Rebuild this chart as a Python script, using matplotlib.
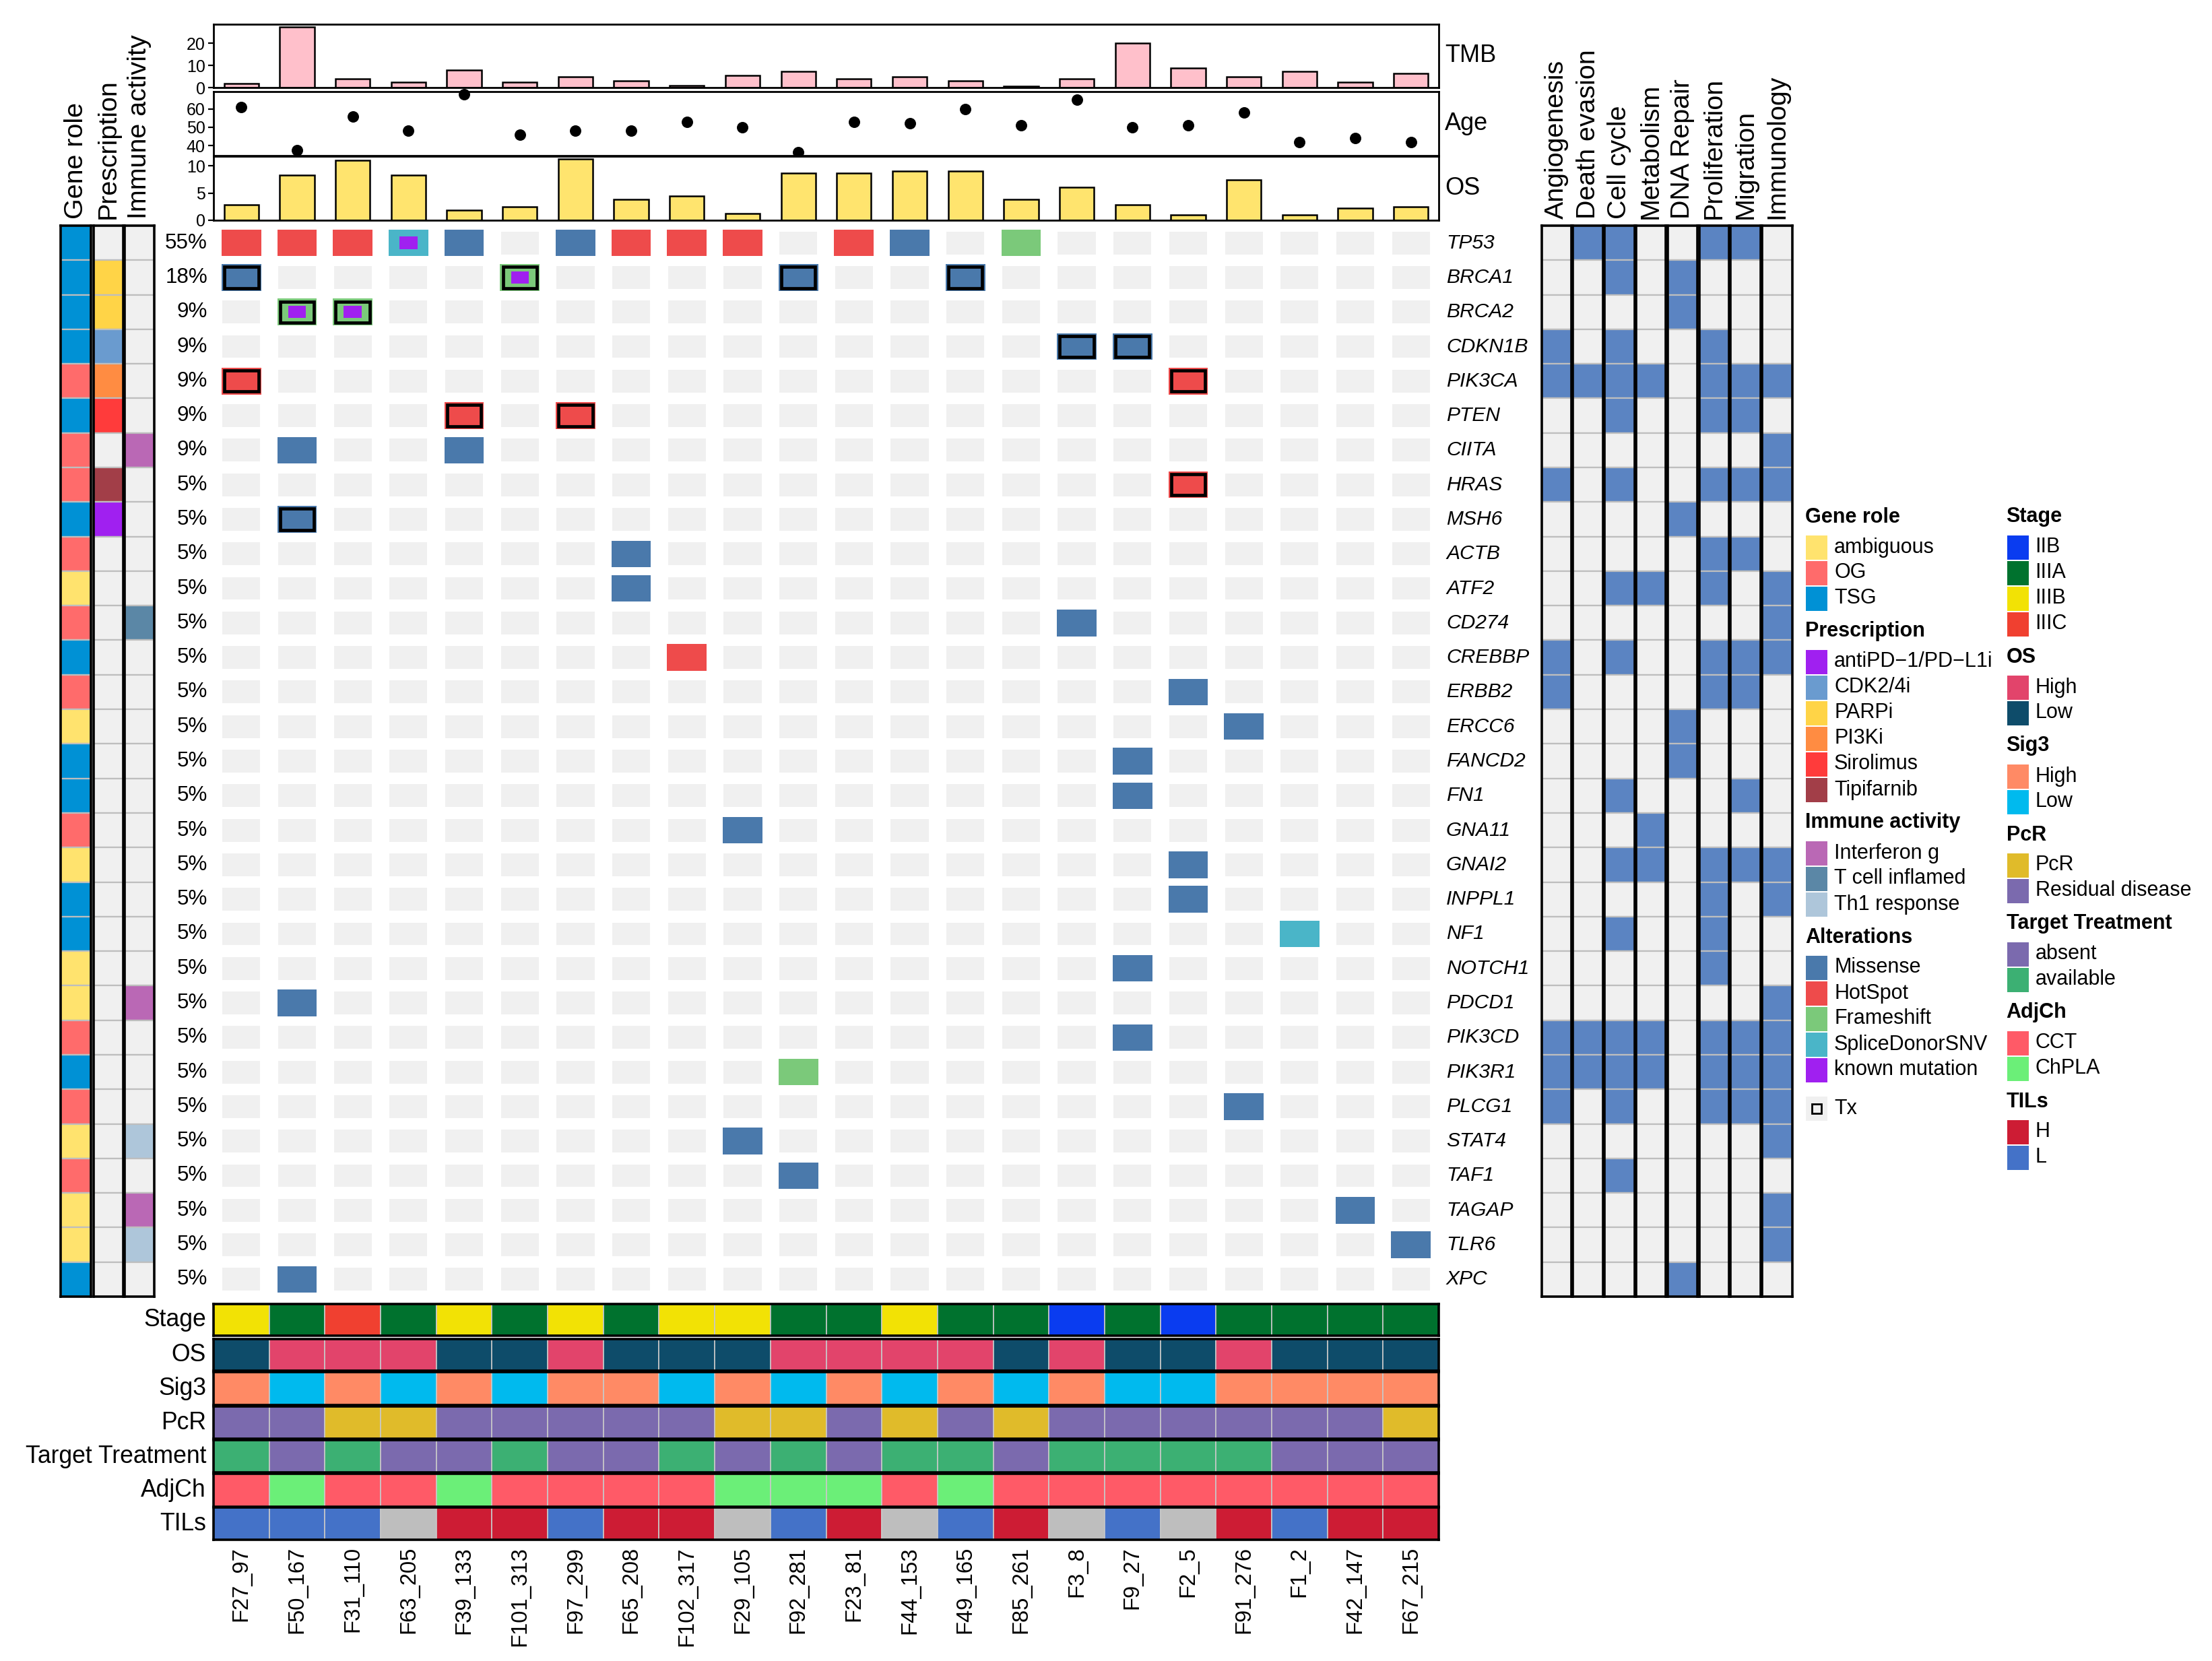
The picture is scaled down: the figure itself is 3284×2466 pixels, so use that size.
import matplotlib
matplotlib.use("Agg")
import matplotlib.pyplot as plt
import matplotlib.transforms as mtransforms
from matplotlib.patches import Rectangle

plt.rcParams['font.family'] = ['Liberation Sans', 'DejaVu Sans']

W, H, DPI = 3284, 2466, 200

# ---------------- data ----------------
samples = ['F27_97', 'F50_167', 'F31_110', 'F63_205', 'F39_133', 'F101_313', 'F97_299',
           'F65_208', 'F102_317', 'F29_105', 'F92_281', 'F23_81', 'F44_153', 'F49_165',
           'F85_261', 'F3_8', 'F9_27', 'F2_5', 'F91_276', 'F1_2', 'F42_147', 'F67_215']

genes = ['TP53', 'BRCA1', 'BRCA2', 'CDKN1B', 'PIK3CA', 'PTEN', 'CIITA', 'HRAS', 'MSH6',
         'ACTB', 'ATF2', 'CD274', 'CREBBP', 'ERBB2', 'ERCC6', 'FANCD2', 'FN1', 'GNA11',
         'GNAI2', 'INPPL1', 'NF1', 'NOTCH1', 'PDCD1', 'PIK3CD', 'PIK3R1', 'PLCG1', 'STAT4',
         'TAF1', 'TAGAP', 'TLR6', 'XPC']

# (gene, sample, alteration)
mutations = [
    ('TP53', 'F27_97', 'HotSpot'), ('TP53', 'F50_167', 'HotSpot'), ('TP53', 'F31_110', 'HotSpot'),
    ('TP53', 'F63_205', 'SpliceDonorSNV'), ('TP53', 'F39_133', 'Missense'),
    ('TP53', 'F97_299', 'Missense'), ('TP53', 'F65_208', 'HotSpot'), ('TP53', 'F102_317', 'HotSpot'),
    ('TP53', 'F29_105', 'HotSpot'), ('TP53', 'F23_81', 'HotSpot'), ('TP53', 'F44_153', 'Missense'),
    ('TP53', 'F85_261', 'Frameshift'),
    ('BRCA1', 'F27_97', 'Missense'), ('BRCA1', 'F101_313', 'Frameshift'),
    ('BRCA1', 'F92_281', 'Missense'), ('BRCA1', 'F49_165', 'Missense'),
    ('BRCA2', 'F50_167', 'Frameshift'), ('BRCA2', 'F31_110', 'Frameshift'),
    ('CDKN1B', 'F3_8', 'Missense'), ('CDKN1B', 'F9_27', 'Missense'),
    ('PIK3CA', 'F27_97', 'HotSpot'), ('PIK3CA', 'F2_5', 'HotSpot'),
    ('PTEN', 'F39_133', 'HotSpot'), ('PTEN', 'F97_299', 'HotSpot'),
    ('CIITA', 'F50_167', 'Missense'), ('CIITA', 'F39_133', 'Missense'),
    ('HRAS', 'F2_5', 'HotSpot'),
    ('MSH6', 'F50_167', 'Missense'),
    ('ACTB', 'F65_208', 'Missense'),
    ('ATF2', 'F65_208', 'Missense'),
    ('CD274', 'F3_8', 'Missense'),
    ('CREBBP', 'F102_317', 'HotSpot'),
    ('ERBB2', 'F2_5', 'Missense'),
    ('ERCC6', 'F91_276', 'Missense'),
    ('FANCD2', 'F9_27', 'Missense'),
    ('FN1', 'F9_27', 'Missense'),
    ('GNA11', 'F29_105', 'Missense'),
    ('GNAI2', 'F2_5', 'Missense'),
    ('INPPL1', 'F2_5', 'Missense'),
    ('NF1', 'F1_2', 'SpliceDonorSNV'),
    ('NOTCH1', 'F9_27', 'Missense'),
    ('PDCD1', 'F50_167', 'Missense'),
    ('PIK3CD', 'F9_27', 'Missense'),
    ('PIK3R1', 'F92_281', 'Frameshift'),
    ('PLCG1', 'F91_276', 'Missense'),
    ('STAT4', 'F29_105', 'Missense'),
    ('TAF1', 'F92_281', 'Missense'),
    ('TAGAP', 'F42_147', 'Missense'),
    ('TLR6', 'F67_215', 'Missense'),
    ('XPC', 'F50_167', 'Missense'),
]
known_mutation = [('TP53', 'F63_205'), ('BRCA1', 'F101_313'), ('BRCA2', 'F50_167'), ('BRCA2', 'F31_110')]
tx = [('BRCA1', 'F27_97'), ('BRCA1', 'F101_313'), ('BRCA1', 'F92_281'), ('BRCA1', 'F49_165'),
      ('BRCA2', 'F50_167'), ('BRCA2', 'F31_110'), ('CDKN1B', 'F3_8'), ('CDKN1B', 'F9_27'),
      ('PIK3CA', 'F27_97'), ('PIK3CA', 'F2_5'), ('PTEN', 'F39_133'), ('PTEN', 'F97_299'),
      ('HRAS', 'F2_5'), ('MSH6', 'F50_167')]

gene_role = ['TSG', 'TSG', 'TSG', 'TSG', 'OG', 'TSG', 'OG', 'OG', 'TSG', 'OG', 'ambiguous', 'OG',
             'TSG', 'OG', 'ambiguous', 'TSG', 'TSG', 'OG', 'ambiguous', 'TSG', 'TSG', 'ambiguous',
             'ambiguous', 'OG', 'TSG', 'OG', 'ambiguous', 'OG', 'ambiguous', 'ambiguous', 'TSG']
prescription = {'BRCA1': 'PARPi', 'BRCA2': 'PARPi', 'CDKN1B': 'CDK2/4i', 'PIK3CA': 'PI3Ki',
                'PTEN': 'Sirolimus', 'HRAS': 'Tipifarnib', 'MSH6': 'antiPD\u22121/PD\u2212L1i'}
immune = {'CIITA': 'Interferon g', 'CD274': 'T cell inflamed', 'PDCD1': 'Interferon g',
          'STAT4': 'Th1 response', 'TAGAP': 'Interferon g', 'TLR6': 'Th1 response'}

pathways = ['Angiogenesis', 'Death evasion', 'Cell cycle', 'Metabolism', 'DNA Repair',
            'Proliferation', 'Migration', 'Immunology']
pathway_genes = {
    'Angiogenesis': ['CDKN1B', 'PIK3CA', 'HRAS', 'CREBBP', 'ERBB2', 'PIK3CD', 'PIK3R1', 'PLCG1'],
    'Death evasion': ['TP53', 'PIK3CA', 'PIK3CD', 'PIK3R1'],
    'Cell cycle': ['TP53', 'BRCA1', 'CDKN1B', 'PIK3CA', 'PTEN', 'HRAS', 'ATF2', 'CREBBP', 'FN1',
                   'GNAI2', 'NF1', 'PIK3CD', 'PIK3R1', 'PLCG1', 'TAF1'],
    'Metabolism': ['PIK3CA', 'ATF2', 'GNA11', 'GNAI2', 'PIK3CD', 'PIK3R1'],
    'DNA Repair': ['BRCA1', 'BRCA2', 'MSH6', 'ERCC6', 'FANCD2', 'XPC'],
    'Proliferation': ['TP53', 'CDKN1B', 'PIK3CA', 'PTEN', 'HRAS', 'ACTB', 'ATF2', 'CREBBP', 'ERBB2',
                      'GNAI2', 'INPPL1', 'NF1', 'NOTCH1', 'PIK3CD', 'PIK3R1', 'PLCG1'],
    'Migration': ['TP53', 'PIK3CA', 'PTEN', 'HRAS', 'ACTB', 'CREBBP', 'ERBB2', 'FN1', 'GNAI2',
                  'PIK3CD', 'PIK3R1', 'PLCG1'],
    'Immunology': ['PIK3CA', 'CIITA', 'HRAS', 'ATF2', 'CD274', 'CREBBP', 'GNAI2', 'INPPL1', 'PDCD1',
                   'PIK3CD', 'PIK3R1', 'PLCG1', 'STAT4', 'TAGAP', 'TLR6'],
}

tmb = [1.7, 27.2, 3.9, 2.3, 8.0, 2.3, 4.8, 3.1, 0.8, 5.6, 7.2, 4.0, 4.8, 3.1, 0.7, 4.0,
       20.0, 8.9, 4.8, 7.2, 2.3, 6.4]
age = [61, 37.5, 56, 48, 68, 46, 48, 48, 53, 50, 36.5, 53, 52, 60, 51, 65, 50, 51, 58, 42, 44, 42]
os_time = [2.85, 8.35, 11.0, 8.35, 1.9, 2.5, 11.3, 3.9, 4.5, 1.3, 8.7, 8.7, 9.1, 9.1, 3.9, 6.1,
           2.85, 0.95, 7.5, 0.95, 2.2, 2.5]

stage = ['IIIB', 'IIIA', 'IIIC', 'IIIA', 'IIIB', 'IIIA', 'IIIB', 'IIIA', 'IIIB', 'IIIB', 'IIIA',
         'IIIA', 'IIIB', 'IIIA', 'IIIA', 'IIB', 'IIIA', 'IIB', 'IIIA', 'IIIA', 'IIIA', 'IIIA']
os_group = ['Low', 'High', 'High', 'High', 'Low', 'Low', 'High', 'Low', 'Low', 'Low', 'High',
            'High', 'High', 'High', 'Low', 'High', 'Low', 'Low', 'High', 'Low', 'Low', 'Low']
sig3 = ['High', 'Low', 'High', 'Low', 'High', 'Low', 'High', 'High', 'Low', 'High', 'Low',
        'High', 'Low', 'High', 'Low', 'High', 'Low', 'Low', 'High', 'High', 'High', 'High']
pcr = ['Residual disease', 'Residual disease', 'PcR', 'PcR', 'Residual disease', 'Residual disease',
       'Residual disease', 'Residual disease', 'Residual disease', 'PcR', 'PcR', 'Residual disease',
       'PcR', 'Residual disease', 'PcR', 'Residual disease', 'Residual disease', 'Residual disease',
       'Residual disease', 'Residual disease', 'Residual disease', 'PcR']
target = ['available', 'absent', 'available', 'absent', 'absent', 'available', 'absent', 'absent',
          'available', 'absent', 'available', 'absent', 'available', 'available', 'absent',
          'available', 'available', 'available', 'available', 'absent', 'absent', 'absent']
adjch = ['CCT', 'ChPLA', 'CCT', 'CCT', 'ChPLA', 'CCT', 'CCT', 'CCT', 'CCT', 'ChPLA', 'ChPLA',
         'ChPLA', 'CCT', 'ChPLA', 'CCT', 'CCT', 'CCT', 'CCT', 'CCT', 'CCT', 'CCT', 'CCT']
tils = ['L', 'L', 'L', None, 'H', 'H', 'L', 'H', 'H', None, 'L', 'H', None, 'L', 'H', None,
        'L', None, 'H', 'L', 'H', 'H']

# ---------------- colours ----------------
EMPTY = '#F0F0F0'
role_col = {'ambiguous': '#FFE36E', 'OG': '#FF6B6B', 'TSG': '#0091D5'}
presc_col = {'antiPD\u22121/PD\u2212L1i': '#A020F0', 'CDK2/4i': '#6A9BCF', 'PARPi': '#FFD447',
             'PI3Ki': '#FF8C42', 'Sirolimus': '#FF3B3B', 'Tipifarnib': '#A23E48'}
immune_col = {'Interferon g': '#BA68B5', 'T cell inflamed': '#5B87A6', 'Th1 response': '#AEC6DA'}
alt_col = {'Missense': '#4A79AB', 'HotSpot': '#EE4B4B', 'Frameshift': '#7BC97A',
           'SpliceDonorSNV': '#4AB5C8', 'known mutation': '#A020F0'}
stage_col = {'IIB': '#0A3CF0', 'IIIA': '#00722E', 'IIIB': '#F2E205', 'IIIC': '#F04030'}
os_col = {'High': '#E2446B', 'Low': '#0E4C6A'}
sig3_col = {'High': '#FF8A65', 'Low': '#00BAEE'}
pcr_col = {'PcR': '#E0BB2A', 'Residual disease': '#7B6AAE'}
target_col = {'absent': '#7B6AAE', 'available': '#3CB073'}
adjch_col = {'CCT': '#FF5A67', 'ChPLA': '#6BEF78'}
tils_col = {'H': '#CD1C34', 'L': '#4472C8'}
PATH_BLUE = '#5B84C2'

fig = plt.figure(figsize=(W / DPI, H / DPI), dpi=DPI)


def add_ax(x0, y0, x1, y1):
    return fig.add_axes([x0 / W, 1 - y1 / H, (x1 - x0) / W, (y1 - y0) / H])


ns, ng = len(samples), len(genes)
MX0, MX1, MY0, MY1 = 317, 2136, 335, 1925
col_px = (MX1 - MX0) / ns

# ---------------- main oncoprint ----------------
ax = add_ax(MX0, MY0, MX1, MY1)
ax.set_xlim(-0.5, ns - 0.5)
ax.set_ylim(ng - 0.5, -0.5)
ax.axis('off')

for i in range(ng):
    for j in range(ns):
        ax.add_patch(Rectangle((j - 0.34, i - 0.33), 0.68, 0.66, fc=EMPTY, ec='none'))

for g, s, a in mutations:
    i, j = genes.index(g), samples.index(s)
    ax.add_patch(Rectangle((j - 0.355, i - 0.385), 0.71, 0.77, fc=alt_col[a], ec='none'))
for g, s in known_mutation:
    i, j = genes.index(g), samples.index(s)
    ax.add_patch(Rectangle((j - 0.16, i - 0.18), 0.32, 0.36, fc=alt_col['known mutation'], ec='none'))
for g, s in tx:
    i, j = genes.index(g), samples.index(s)
    ax.add_patch(Rectangle((j - 0.305, i - 0.305), 0.61, 0.61, fc='none', ec='black', lw=1.7))

for i, g in enumerate(genes):
    n = len({s for gg, s, a in mutations if gg == g})
    pct = int(n / ns * 100 + 0.5)
    ax.text(-0.5 - 9 / col_px, i, f'{pct}%', ha='right', va='center', fontsize=11.3)
    ax.text(ns - 0.5 + 11 / col_px, i, g, ha='left', va='center', fontsize=10.8, style='italic')

# ---------------- top annotations ----------------
def style_top(a, ticks, label):
    a.set_xlim(-0.5, ns - 0.5)
    a.set_xticks([])
    a.set_yticks(ticks)
    a.tick_params(axis='y', labelsize=9, length=3, width=0.8, pad=1.5)
    for sp in a.spines.values():
        sp.set_linewidth(1.0)
    a.text(1.005, 0.5, label, transform=a.transAxes, ha='left', va='center', fontsize=13)


xs = list(range(ns))
a_tmb = add_ax(MX0, 36, MX1, 130)
a_tmb.bar(xs, tmb, width=0.62, color='#FFC0CB', edgecolor='black', linewidth=0.9)
a_tmb.set_ylim(0, 28.5)
style_top(a_tmb, [0, 10, 20], 'TMB')

a_age = add_ax(MX0, 136, MX1, 231)
a_age.scatter(xs, age, s=26, color='black', zorder=3, clip_on=False)
a_age.set_ylim(34.5, 69.5)
style_top(a_age, [40, 50, 60], 'Age')

a_os = add_ax(MX0, 232, MX1, 327)
a_os.bar(xs, os_time, width=0.62, color='#FFE46E', edgecolor='black', linewidth=0.9)
a_os.set_ylim(0, 11.8)
style_top(a_os, [0, 5, 10], 'OS')

# ---------------- left row annotations ----------------
left_ann = [('Gene role', 90, 135, [role_col[r] for r in gene_role]),
            ('Prescription', 139, 183, [presc_col[prescription[g]] if g in prescription else EMPTY for g in genes]),
            ('Immune activity', 185, 229, [immune_col[immune[g]] if g in immune else EMPTY for g in genes])]


def column_panel(x0, x1, colors, title):
    a = add_ax(x0, MY0, x1, MY1)
    a.set_xlim(0, 1)
    a.set_ylim(ng, 0)
    a.set_xticks([])
    a.set_yticks([])
    for i, c in enumerate(colors):
        a.add_patch(Rectangle((0, i), 1, 1, fc=c, ec='#BEBEBE', lw=0.8))
    for sp in a.spines.values():
        sp.set_linewidth(1.3)
    a.text(0.5, 1.0 + 10 / (MY1 - MY0), title, transform=a.transAxes, rotation=90,
           ha='center', va='bottom', fontsize=14.2)
    return a


for title, x0, x1, cols in left_ann:
    column_panel(x0, x1, cols, title)

# ---------------- pathway panel ----------------
for k, p in enumerate(pathways):
    x0 = 2288.5 + 46.8 * k
    cols = [PATH_BLUE if g in pathway_genes[p] else EMPTY for g in genes]
    column_panel(x0, x0 + 44.5, cols, p)

# ---------------- bottom annotations ----------------
bottom_ann = [('Stage', 1936, 1983, [stage_col[v] for v in stage]),
              ('OS', 1988, 2035, [os_col[v] for v in os_group]),
              ('Sig3', 2037, 2086, [sig3_col[v] for v in sig3]),
              ('PcR', 2088, 2136, [pcr_col[v] for v in pcr]),
              ('Target Treatment', 2138, 2186, [target_col[v] for v in target]),
              ('AdjCh', 2188, 2237, [adjch_col[v] for v in adjch]),
              ('TILs', 2238, 2286, [tils_col[v] if v else '#BEBEBE' for v in tils])]

for name, y0, y1, cols in bottom_ann:
    a = add_ax(MX0, y0, MX1, y1)
    a.set_xlim(-0.5, ns - 0.5)
    a.set_ylim(0, 1)
    a.set_xticks([])
    a.set_yticks([])
    for j, c in enumerate(cols):
        a.add_patch(Rectangle((j - 0.5, 0), 1, 1, fc=c, ec='#C8C8C8', lw=0.6))
    for sp in a.spines.values():
        sp.set_linewidth(1.3)
    a.text(-0.5 - 11 / col_px, 0.5, name, ha='right', va='center', fontsize=12.8)
    last = a

trans = mtransforms.blended_transform_factory(last.transData, last.transAxes)
for j, s in enumerate(samples):
    last.text(j, -10 / 48, s, transform=trans, rotation=90, ha='center', va='top', fontsize=11.8)

# ---------------- legends ----------------
lax = add_ax(2660, 730, 3284, 1760)
lax.set_xlim(2660, 3284)
lax.set_ylim(1760, 730)
lax.axis('off')

STEP = 38


def draw_legend(x, y, groups):
    for title, mapping in groups:
        lax.text(x - 1, y, title, fontsize=11, fontweight='bold', ha='left', va='center')
        y += 27
        for lab, c in mapping.items():
            lax.add_patch(Rectangle((x, y), 32, 36, fc=c, ec='none'))
            lax.text(x + 42, y + 18, lab, fontsize=11, ha='left', va='center')
            last_top = y
            y += STEP
        y = last_top + 67
    return last_top


last_top = draw_legend(2681, 767.5, [('Gene role', role_col), ('Prescription', presc_col),
                                     ('Immune activity', immune_col), ('Alterations', alt_col)])
ty = last_top + 57.5
lax.add_patch(Rectangle((2681, ty), 32, 36, fc=EMPTY, ec='none'))
lax.add_patch(Rectangle((2690, ty + 11), 14, 14, fc='none', ec='black', lw=1.0))
lax.text(2723, ty + 18, 'Tx', fontsize=11, ha='left', va='center')

draw_legend(2979.5, 767.5, [('Stage', stage_col), ('OS', os_col), ('Sig3', sig3_col),
                            ('PcR', pcr_col), ('Target Treatment', target_col),
                            ('AdjCh', adjch_col), ('TILs', tils_col)])

fig.savefig('out.png', dpi=DPI, facecolor='white')
